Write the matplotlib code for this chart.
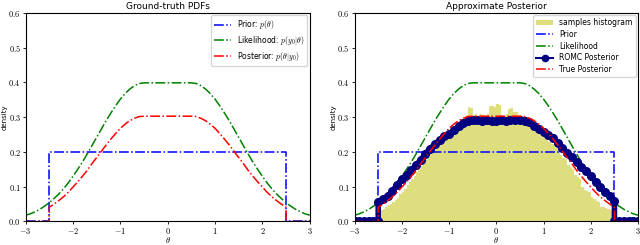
import numpy as np
import matplotlib
matplotlib.use("Agg")
import matplotlib.pyplot as plt
from matplotlib.ticker import FuncFormatter

plt.rcParams['mathtext.fontset'] = 'cm'
plt.rcParams['font.size'] = 6

theta_full = np.round(np.arange(-3.0, 3.001, 0.1), 2)
theta_in = np.round(np.arange(-2.5, 2.501, 0.1), 2)

likelihood = [0.018, 0.022, 0.028, 0.035, 0.044, 0.054, 0.066, 0.079, 0.094, 0.111,
              0.130, 0.150, 0.171, 0.194, 0.218, 0.242, 0.266, 0.290, 0.312, 0.333,
              0.352, 0.368, 0.381, 0.391, 0.397,
              0.399, 0.399, 0.399, 0.399, 0.399, 0.399, 0.399, 0.399, 0.399, 0.399, 0.399,
              0.397, 0.391, 0.381, 0.368, 0.352, 0.333, 0.312, 0.290, 0.266, 0.242,
              0.218, 0.194, 0.171, 0.150, 0.130, 0.111, 0.094, 0.079, 0.066, 0.054,
              0.044, 0.035, 0.028, 0.022, 0.018]

posterior = [0.041, 0.050, 0.060, 0.071, 0.084, 0.099, 0.114, 0.130, 0.147, 0.166,
             0.184, 0.202, 0.220, 0.237, 0.253, 0.268, 0.280, 0.290, 0.297, 0.302,
             0.303, 0.303, 0.303, 0.303, 0.303, 0.303, 0.303, 0.303, 0.303, 0.303, 0.303,
             0.302, 0.297, 0.290, 0.280, 0.268, 0.253, 0.237, 0.220, 0.202, 0.184,
             0.166, 0.147, 0.130, 0.114, 0.099, 0.084, 0.071, 0.060, 0.050, 0.041]

romc = [0.056, 0.065, 0.072, 0.088, 0.105, 0.122, 0.135, 0.148, 0.162, 0.177,
        0.195, 0.210, 0.222, 0.235, 0.245, 0.252, 0.262, 0.274, 0.284, 0.290,
        0.292, 0.291, 0.290, 0.291, 0.290, 0.290, 0.291, 0.290, 0.291, 0.292, 0.291,
        0.289, 0.285, 0.275, 0.265, 0.257, 0.250, 0.240, 0.226, 0.212, 0.198,
        0.185, 0.171, 0.158, 0.145, 0.130, 0.115, 0.100, 0.085, 0.072, 0.060]

prior_level = 0.2
prior_lo, prior_hi = -2.5, 2.5

hist_edges = np.round(np.linspace(-2.5, 2.5, 101), 3)
hist_heights = [0.030, 0.034, 0.037, 0.041, 0.046, 0.050, 0.057, 0.062, 0.068, 0.080,
                0.086, 0.094, 0.105, 0.113, 0.122, 0.131, 0.143, 0.152, 0.160, 0.166,
                0.178, 0.186, 0.193, 0.201, 0.210, 0.218, 0.226, 0.233, 0.241, 0.246,
                0.250, 0.258, 0.266, 0.276, 0.287, 0.296, 0.301, 0.306, 0.329, 0.326,
                0.306, 0.309, 0.304, 0.310, 0.306, 0.303, 0.308, 0.331, 0.333, 0.330,
                0.338, 0.336, 0.306, 0.304, 0.309, 0.324, 0.326, 0.316, 0.314, 0.306,
                0.305, 0.300, 0.298, 0.296, 0.293, 0.289, 0.287, 0.280, 0.265, 0.256,
                0.252, 0.248, 0.230, 0.224, 0.222, 0.212, 0.206, 0.190, 0.184, 0.180,
                0.163, 0.156, 0.150, 0.135, 0.127, 0.122, 0.100, 0.092, 0.089, 0.086,
                0.070, 0.066, 0.058, 0.055, 0.043, 0.041, 0.039, 0.036, 0.034, 0.033]


def with_zero_tails(x, y):
    # pad a density that lives on [-2.5, 2.5] with zeros out to the axis limits
    left = np.round(np.arange(-3.0, prior_lo + 0.001, 0.1), 2)
    right = np.round(np.arange(prior_hi, 3.001, 0.1), 2)
    xs = np.concatenate([left, x, right])
    ys = np.concatenate([np.zeros(len(left)), y, np.zeros(len(right))])
    return xs, ys


prior_x = [-3.0, prior_lo, prior_lo, prior_hi, prior_hi, 3.0]
prior_y = [0, 0, prior_level, prior_level, 0, 0]
post_x, post_y = with_zero_tails(theta_in, posterior)
romc_x, romc_y = with_zero_tails(theta_in, romc)

yfmt = FuncFormatter(lambda v, p: r'$%.1f$' % v)
xfmt = FuncFormatter(lambda v, p: r'$%d$' % round(v))

fig = plt.figure(figsize=(6.4, 2.45), dpi=100)
ax1 = fig.add_axes([0.040, 0.096, 0.444, 0.851])
ax2 = fig.add_axes([0.554, 0.096, 0.443, 0.851])

lw = 1.1
ax1.plot(prior_x, prior_y, '-.', color='b', lw=lw, label=r'Prior: $p(\theta)$')
ax1.plot(theta_full, likelihood, '-.', color='g', lw=lw, label=r'Likelihood: $p(y_0|\theta)$')
ax1.plot(post_x, post_y, '-.', color='r', lw=lw, label=r'Posterior: $p(\theta|y_0)$')
ax1.set_title('Ground-truth PDFs', fontsize=6.5, pad=3)
ax1.legend(loc='upper right', fontsize=5.5, borderaxespad=0.3, handlelength=2.2,
           labelspacing=0.35)

centers = (hist_edges[:-1] + hist_edges[1:]) / 2
ax2.bar(centers, hist_heights, width=np.diff(hist_edges), color='y', alpha=0.5,
        label='samples histogram')
ax2.plot(prior_x, prior_y, '-.', color='b', lw=lw, label='Prior')
ax2.plot(theta_full, likelihood, '-.', color='g', lw=lw, label='Likelihood')
ax2.plot(romc_x, romc_y, '-o', color='navy', lw=4, ms=5.5, label='ROMC Posterior')
ax2.plot(post_x, post_y, '-.', color='r', lw=lw, label='True Posterior')
ax2.set_title('Approximate Posterior', fontsize=6.5, pad=3)
h, l = ax2.get_legend_handles_labels()
order = [4, 0, 1, 2, 3]
leg = ax2.legend([h[i] for i in order], [l[i] for i in order], loc='upper right',
                 fontsize=5.5, borderaxespad=0.3, handlelength=2.2, labelspacing=0.35)
leg.legend_handles[3].set_linewidth(1.5)
leg.legend_handles[3].set_markersize(4.5)

for ax in (ax1, ax2):
    ax.set_xlim(-3, 3)
    ax.set_ylim(0, 0.6)
    ax.set_xticks([-3, -2, -1, 0, 1, 2, 3])
    ax.set_yticks([0.0, 0.1, 0.2, 0.3, 0.4, 0.5, 0.6])
    ax.xaxis.set_major_formatter(xfmt)
    ax.yaxis.set_major_formatter(yfmt)
    ax.tick_params(labelsize=6, length=2.5, width=0.6, pad=1)
    ax.set_xlabel(r'$\theta$', fontsize=6, labelpad=-1)
    ax.set_ylabel('density', fontsize=5, labelpad=0.5)
    for s in ax.spines.values():
        s.set_linewidth(0.8)

fig.savefig('out.png', dpi=100)
